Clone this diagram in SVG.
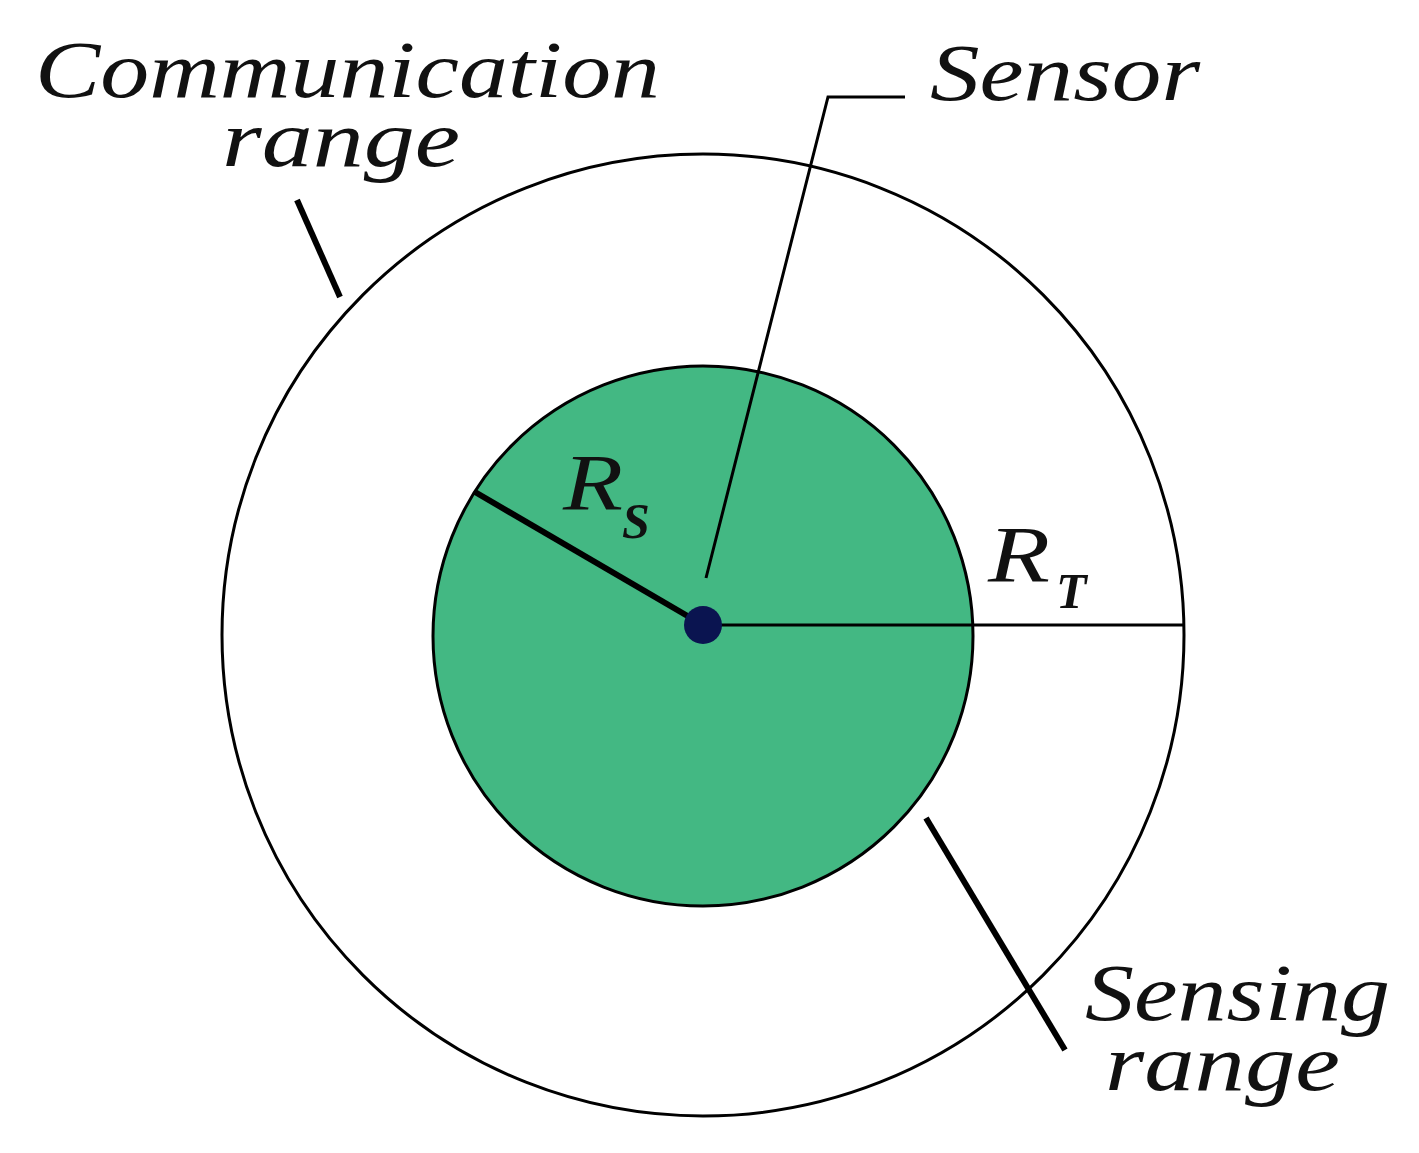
<svg xmlns="http://www.w3.org/2000/svg" width="1419" height="1153" viewBox="0 0 1419 1153">
<style>
.t{font-family:"Liberation Serif","Times New Roman",serif;font-style:italic;fill:#111;font-size:80px}
.s{font-family:"Liberation Serif","Times New Roman",serif;font-style:italic;font-weight:bold;fill:#111;font-size:50px}
.thin{stroke:#000;stroke-width:3;fill:none}
.thick{stroke:#000;stroke-width:6;fill:none}
</style>
<rect width="1419" height="1153" fill="#fff"/>
<g id="communication-range"><circle cx="703" cy="635" r="481" class="thin"/></g>
<g id="sensing-range"><circle cx="703" cy="636" r="270" fill="#43b883" stroke="#000" stroke-width="3"/></g>
<g id="connectors">
<line x1="703" y1="625" x2="1184" y2="625" class="thin"/>
<line x1="703" y1="625" x2="475" y2="492" class="thick" stroke-width="5"/>
<polyline points="706,578 828,97 905,97" class="thin"/>
<line x1="297" y1="200" x2="340" y2="297" class="thick"/>
<line x1="926" y1="818" x2="1065" y2="1050" class="thick"/>
</g>
<g id="sensor"><circle cx="703" cy="625" r="19" fill="#0a1450"/></g>
<g id="labels">
<text class="t" x="35" y="97" textLength="625" lengthAdjust="spacingAndGlyphs">Communication</text>
<text class="t" x="222" y="166" textLength="238" lengthAdjust="spacingAndGlyphs">range</text>
<text class="t" x="930" y="100" textLength="270" lengthAdjust="spacingAndGlyphs">Sensor</text>
<text class="t" x="1085" y="1020" textLength="305" lengthAdjust="spacingAndGlyphs">Sensing</text>
<text class="t" x="1105" y="1090" textLength="235" lengthAdjust="spacingAndGlyphs">range</text>
<text class="t" x="563" y="510" textLength="60" lengthAdjust="spacingAndGlyphs">R</text><text class="s" x="622" y="538">S</text>
<text class="t" x="988" y="582" textLength="62" lengthAdjust="spacingAndGlyphs">R</text><text class="s" x="1056" y="608">T</text>
</g>
</svg>
